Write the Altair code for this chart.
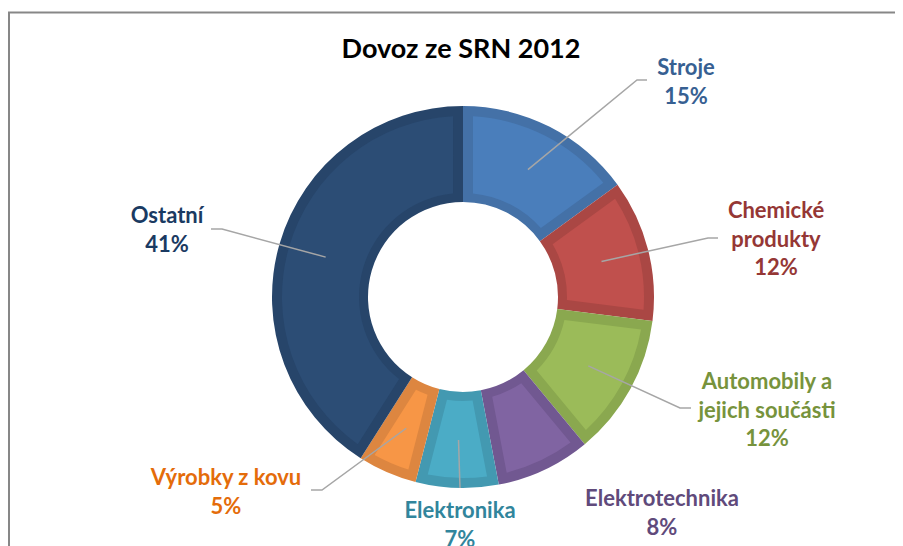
import math
import altair as alt
import pandas as pd

# ---- data ----
categories = ["Stroje", "Chemické produkty", "Automobily a jejich součásti",
              "Elektrotechnika", "Elektronika", "Výrobky z kovu", "Ostatní"]
label_lines = [["Stroje"], ["Chemické", "produkty"], ["Automobily a", "jejich součásti"],
               ["Elektrotechnika"], ["Elektronika"], ["Výrobky z kovu"], ["Ostatní"]]
shares = [15, 12, 12, 8, 7, 5, 41]
title_text = "Dovoz ze SRN 2012"

# ---- styles ----
light_colors = ["#4a7ebb", "#c0504d", "#9bbb59", "#8064a2", "#4bacc6", "#f79646", "#2c4d75"]
band_colors = ["#4471a7", "#aa4744", "#8aa84f", "#715891", "#4399b1", "#dd8640", "#27456a"]
text_colors = ["#376092", "#953735", "#77933c", "#604a7b", "#31859c", "#e46c0a", "#1a3a62"]

# ---- layout (page px -> plot px by subtracting the 8px margin) ----
M = 8
W, H = 887, 538
CX, CY = 463 - M, 297 - M
R_OUT, R_IN = 191, 95
LEADER_R = 143
FONT = "Lato"
FS = 22
LINE_H = 28.5
# label anchor (center x, first line y) in page px
label_anchor = [(686, 68), (776, 211), (767, 382), (662, 499), (460, 511), (226, 478), (167, 216)]
# leader elbow / end points in page px (None = no leader)
leader_pts = [((637, 80), (647, 80)), ((708, 238), (718, 238)), ((680, 408), (691, 408)),
              None, ((460, 488), (460, 488)), ((322, 490), (311, 490)), ((222, 229), (211, 229))]

df = pd.DataFrame({"cat": categories, "value": shares, "idx": list(range(len(categories)))})

base = alt.Chart(df).encode(
    theta=alt.Theta("value:Q", stack=True),
    order=alt.Order("idx:Q"),
)
outer = base.mark_arc(radius=R_OUT, radius2=R_IN, x=CX, y=CY, stroke=None).encode(
    color=alt.Color("cat:N", scale=alt.Scale(domain=categories, range=band_colors), legend=None)
)
pad_r = math.sqrt((R_OUT - 10) ** 2 + (R_IN + 9) ** 2)
inner = base.mark_arc(radius=R_OUT - 10, radius2=R_IN + 9, x=CX, y=CY,
                      padAngle=20 / pad_r, stroke=None).encode(
    color=alt.Color("cat:N", scale=alt.Scale(domain=categories, range=light_colors), legend=None)
)

# leader lines from mid-angle of each slice
total = sum(shares)
rows = []
cum = 0
for i, v in enumerate(shares):
    mid = (cum + v / 2) / total * 2 * math.pi
    cum += v
    if leader_pts[i] is None:
        continue
    sx = CX + LEADER_R * math.sin(mid)
    sy = CY - LEADER_R * math.cos(mid)
    (ex, ey), (fx, fy) = leader_pts[i]
    rows.append({"cat": categories[i], "seq": 0, "px": sx, "py": sy})
    rows.append({"cat": categories[i], "seq": 1, "px": ex - M, "py": ey - M})
    rows.append({"cat": categories[i], "seq": 2, "px": fx - M, "py": fy - M})
ldf = pd.DataFrame(rows)
leaders = alt.Chart(ldf).mark_line(color="#a6a6a6", strokeWidth=1.5).encode(
    x=alt.X("px:Q", scale=None, axis=None),
    y=alt.Y("py:Q", scale=None, axis=None),
    detail="cat:N",
    order="seq:Q",
)

# labels
trows = []
for i, v in enumerate(shares):
    lines = label_lines[i] + [f"{v}%"]
    ax, ay = label_anchor[i]
    for j, t in enumerate(lines):
        trows.append({"cat": categories[i], "t": t, "px": ax - M, "py": ay - M + j * LINE_H})
tdf = pd.DataFrame(trows)
labels = alt.Chart(tdf).mark_text(font=FONT, fontSize=FS, fontWeight="bold",
                                  align="center", baseline="middle").encode(
    x=alt.X("px:Q", scale=None, axis=None),
    y=alt.Y("py:Q", scale=None, axis=None),
    text="t:N",
    color=alt.Color("cat:N", scale=alt.Scale(domain=categories, range=text_colors), legend=None),
)

one = alt.Chart(pd.DataFrame({"a": [0]}))
title = one.mark_text(font=FONT, fontSize=27, fontWeight="bold", align="center",
                      baseline="middle", color="#000000", text=title_text).encode(
    x=alt.value(461 - M), y=alt.value(50 - M))
frame_top = one.mark_rule(color="#878787", strokeWidth=2).encode(
    x=alt.value(0), x2=alt.value(W), y=alt.value(12.5 - M))
frame_left = one.mark_rule(color="#878787", strokeWidth=2).encode(
    x=alt.value(1), y=alt.value(12.5 - M), y2=alt.value(H))

chart = alt.layer(frame_top, frame_left, outer, inner, leaders, labels, title).properties(
    width=W, height=H, padding=0, autosize=alt.AutoSizeParams(type="none"),
    background="#ffffff",
).configure_view(strokeWidth=0).resolve_scale(color="independent")

chart.save("out.html", embed_options={"renderer": "svg", "actions": False})
